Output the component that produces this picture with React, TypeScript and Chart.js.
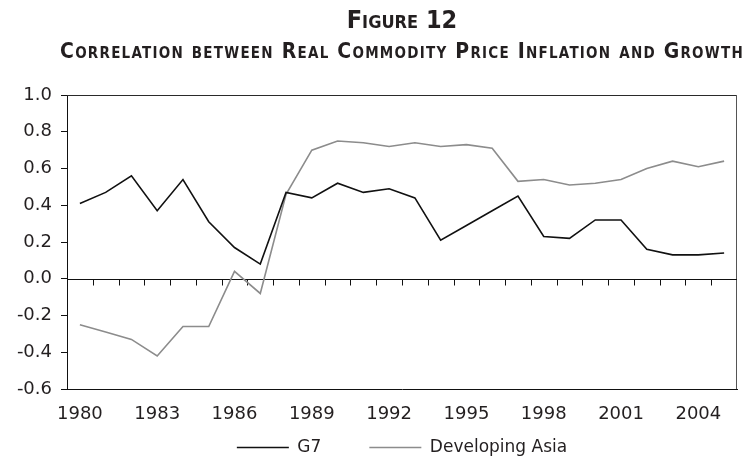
import React, { useEffect, useRef } from 'react';
import { Chart, registerables } from 'chart.js';

Chart.register(...registerables);

const years = ['1980', '1981', '1982', '1983', '1984', '1985', '1986', '1987', '1988', '1989', '1990', '1991', '1992', '1993', '1994', '1995', '1996', '1997', '1998', '1999', '2000', '2001', '2002', '2003', '2004', '2005'];
const g7 = [0.41, 0.47, 0.56, 0.37, 0.54, 0.31, 0.17, 0.08, 0.47, 0.44, 0.52, 0.47, 0.49, 0.44, 0.21, 0.29, 0.37, 0.45, 0.23, 0.22, 0.32, 0.32, 0.16, 0.13, 0.13, 0.14];
const developingAsia = [-0.25, -0.29, -0.33, -0.42, -0.26, -0.26, 0.04, -0.08, 0.46, 0.70, 0.75, 0.74, 0.72, 0.74, 0.72, 0.73, 0.71, 0.53, 0.54, 0.51, 0.52, 0.54, 0.60, 0.64, 0.61, 0.64];
const yMin = -0.6;
const yMax = 1.0;
const yStep = 0.2;
const titleText = 'Figure 12';
const subtitleText = 'Correlation between Real Commodity Price Inflation and Growth';

const TEXT = '#231f20';
const FONT = "'DejaVu Sans', sans-serif";

const framePlugin = {
  id: 'frame',
  beforeDatasetsDraw(chart: any) {
    const { ctx, chartArea } = chart;
    const { left, right, top, bottom } = chartArea;
    const y = chart.scales.y;
    ctx.save();
    ctx.lineWidth = 1;
    ctx.strokeStyle = '#2a2a2a';
    ctx.beginPath();
    ctx.moveTo(left, Math.round(top) + 0.5);
    ctx.lineTo(right, Math.round(top) + 0.5);
    ctx.stroke();
    ctx.strokeStyle = '#555';
    ctx.beginPath();
    ctx.moveTo(Math.round(right) - 0.5, top);
    ctx.lineTo(Math.round(right) - 0.5, bottom);
    ctx.stroke();
    const y0 = Math.round(y.getPixelForValue(0)) + 0.5;
    ctx.strokeStyle = '#111';
    ctx.beginPath();
    ctx.moveTo(left, y0);
    ctx.lineTo(right, y0);
    const n = chart.data.labels.length;
    const w = (right - left) / n;
    for (let i = 0; i < n; i++) {
      const xx = Math.round(left + i * w) + 0.5;
      ctx.moveTo(xx, y0);
      ctx.lineTo(xx, y0 + 6);
    }
    ctx.stroke();
    ctx.restore();
  },
};

// place the legend row just below the x-axis labels (labels.padding also sets spacing between items)
const legendPlace = {
  id: 'legendPlace',
  afterLayout(chart: any) {
    const lg = chart.legend;
    if (!lg) return;
    const top = chart.chartArea.bottom + 2;
    lg.top = top;
    lg.bottom = top + 80;
  },
};

export default function App() {
  const ref = useRef<HTMLCanvasElement | null>(null);

  useEffect(() => {
    document.body.style.margin = '0';
    const canvas = ref.current;
    if (!canvas) return;
    const chart = new Chart(canvas, {
      type: 'line',
      data: {
        labels: years,
        datasets: [
          {
            label: 'G7',
            data: g7,
            borderColor: '#111',
            backgroundColor: '#111',
            borderWidth: 1.6,
            pointRadius: 0,
            tension: 0,
          },
          {
            label: 'Developing Asia',
            data: developingAsia,
            borderColor: '#8c8c8c',
            backgroundColor: '#8c8c8c',
            borderWidth: 1.6,
            pointRadius: 0,
            tension: 0,
          },
        ],
      },
      options: {
        responsive: false,
        animation: false,
        layout: { padding: { top: 95, right: 9, bottom: 0, left: 0 } },
        plugins: {
          tooltip: { enabled: false },
          title: { display: false },
          legend: {
            display: true,
            position: 'bottom',
            fullSize: false,
            maxHeight: 42,
            labels: {
              usePointStyle: true,
              pointStyle: 'line',
              pointStyleWidth: 52,
              padding: 48,
              color: TEXT,
              font: { family: FONT, size: 17 },
            },
          },
        },
        scales: {
          x: {
            type: 'category',
            offset: true,
            grid: { display: true, drawOnChartArea: false, drawTicks: false },
            border: { display: true, color: '#111', width: 1 },
            ticks: {
              autoSkip: false,
              maxRotation: 0,
              minRotation: 0,
              padding: 15,
              color: TEXT,
              font: { family: FONT, size: 18 },
              callback: (_v: any, i: number) => (i % 3 === 0 ? years[i] : ''),
            },
            afterFit: (s: any) => {
              s.height = 40;
            },
          },
          y: {
            min: yMin,
            max: yMax,
            grid: { drawOnChartArea: false, drawTicks: true, tickLength: 6, color: '#111' },
            border: { display: true, color: '#111', width: 1 },
            ticks: {
              stepSize: yStep,
              padding: 9,
              color: TEXT,
              font: { family: FONT, size: 18 },
              callback: (v: any) => Number(v).toFixed(1),
            },
            afterFit: (s: any) => {
              s.width = 67;
            },
          },
        },
      },
      plugins: [framePlugin, legendPlace],
    });
    return () => chart.destroy();
  }, []);

  const titleBase: React.CSSProperties = {
    position: 'absolute',
    left: 0,
    width: 804,
    textAlign: 'center',
    whiteSpace: 'nowrap',
    fontFamily: "'DejaVu Sans Condensed', 'DejaVu Sans', sans-serif",
    fontWeight: 'bold',
    fontVariant: 'small-caps',
    color: TEXT,
    margin: 0,
  };

  return (
    <div style={{ position: 'relative', width: 746, height: 471, overflow: 'hidden', background: '#fff' }}>
      <canvas ref={ref} width={746} height={471} style={{ position: 'absolute', left: 0, top: 0, display: 'block' }} />
      <div style={{ ...titleBase, top: 7, fontSize: 25, lineHeight: '25px' }}>{titleText}</div>
      <div style={{ ...titleBase, top: 41, fontSize: 21, lineHeight: '21px', letterSpacing: '1.25px' }}>{subtitleText}</div>
    </div>
  );
}
